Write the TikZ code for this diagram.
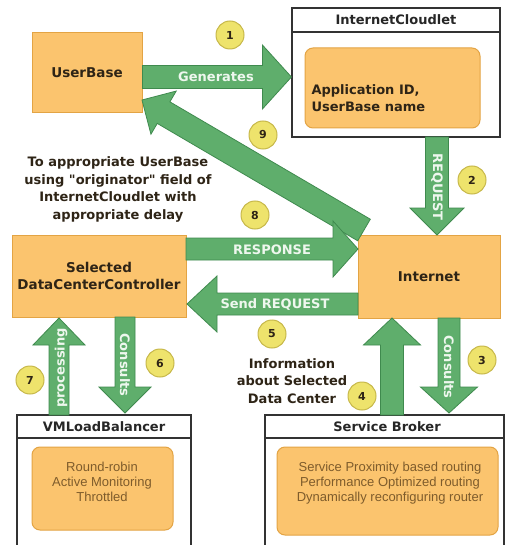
\documentclass[tikz,border=0pt]{standalone}
\usepackage{fontspec}
\setmainfont{DejaVu Sans}[Ligatures=TeXOff]
\newfontfamily\listfont{Liberation Sans}
\usetikzlibrary{calc}

\definecolor{boxfill}{HTML}{FBC46E}
\definecolor{boxline}{HTML}{E3A444}
\definecolor{flowfill}{HTML}{5FAE6C}
\definecolor{flowline}{HTML}{3F8A4E}
\definecolor{stepfill}{HTML}{EEE36C}
\definecolor{stepline}{HTML}{C7B84A}
\definecolor{ink}{HTML}{2E2416}
\definecolor{listink}{HTML}{7E5C2C}
\definecolor{flowink}{HTML}{EEF7EE}

\tikzset{
  unit/.style={draw=boxline, fill=boxfill, line width=1pt, text=ink,
    font=\bfseries\fontsize{13.5}{17}\selectfont, align=center, inner sep=0pt},
  frame/.style={draw=black!80, fill=white, line width=1.2pt, inner sep=0pt},
  innerbox/.style={draw=boxline, fill=boxfill, line width=1pt, rounded corners=8pt, inner sep=0pt},
  title/.style={text=black!85, font=\bfseries\fontsize{13}{16}\selectfont},
  flow/.style={fill=flowfill, draw=flowline, line width=0.8pt, line join=miter},
  flowtext/.style={text=flowink, font=\bfseries\fontsize{13}{16}\selectfont, inner sep=0pt},
  stepno/.style={circle, minimum size=28pt, inner sep=0pt, fill=stepfill, draw=stepline,
    line width=1pt, text=ink, font=\bfseries\fontsize{11}{13}\selectfont},
  note/.style={text=ink, font=\bfseries\fontsize{13}{17.4}\selectfont, align=center},
  boxtext/.style={text=ink, font=\bfseries\fontsize{13}{17}\selectfont, align=left},
  listing/.style={text=listink, font=\listfont\fontsize{13}{15}\selectfont, align=center},
}

% block arrow: [options]{from}{to}{shaft half width}{head half width}{head length}
\newcommand\blockarrow[6][]{%
  \coordinate (ba-base) at ($(#3)!#6!(#2)$);
  \filldraw[flow,#1] ($(#2)!#4!90:(#3)$) -- ($(ba-base)!#4!-90:(#2)$)
    -- ($(ba-base)!#5!-90:(#2)$) -- (#3) -- ($(ba-base)!#5!90:(#2)$)
    -- ($(ba-base)!#4!90:(#2)$) -- ($(#2)!#4!-90:(#3)$) -- cycle;
}

\begin{document}
\begin{tikzpicture}[x=1pt,y=-1pt]
\clip (0,0) rectangle (505,545);
\fill[white] (0,0) rectangle (505,545);

% ---- plain units
\node[unit, minimum width=110pt, minimum height=80pt] (ub) at (87,73) {UserBase};
\node[unit, minimum width=174pt, minimum height=82pt] (dcc) at (99,276) {Selected\\DataCenterController};
\node[unit, minimum width=142pt, minimum height=83pt] (inet) at (429,276.5) {Internet};

% ---- InternetCloudlet
\node[frame, minimum width=208pt, minimum height=129pt] (icl) at (396,72.5) {};
\coordinate (iclbar) at (0,32);
\draw[black!80, line width=1.2pt] (icl.west |- iclbar) -- (icl.east |- iclbar);
\node[title] (iclt) at (396,20) {InternetCloudlet};
\node[innerbox, minimum width=175pt, minimum height=80pt] (iclin) at (392.5,88) {};
\node[boxtext, anchor=west] (icltxt) at (308,98.5) {Application ID,\\UserBase name};

% ---- VMLoadBalancer
\node[frame, minimum width=174pt, minimum height=137pt] (vmlb) at (104,483.5) {};
\coordinate (vmlbbar) at (0,438);
\draw[black!80, line width=1.2pt] (vmlb.west |- vmlbbar) -- (vmlb.east |- vmlbbar);
\node[title] (vmlbt) at (104,427) {VMLoadBalancer};
\node[innerbox, minimum width=141pt, minimum height=83pt] (vmlbin) at (102.5,488.5) {};
\node[listing] (vmlbtxt) at (102,482) {Round-robin\\Active Monitoring\\Throttled};

% ---- Service Broker
\node[frame, minimum width=239pt, minimum height=137pt] (sb) at (384.5,483.5) {};
\coordinate (sbbar) at (0,438);
\draw[black!80, line width=1.2pt] (sb.west |- sbbar) -- (sb.east |- sbbar);
\node[title] (sbt) at (387,427) {Service Broker};
\node[innerbox, minimum width=221pt, minimum height=88pt] (sbin) at (387.5,491) {};
\node[listing] (sbtxt) at (390,483) {Service Proximity based routing\\Performance Optimized routing\\Dynamically reconfiguring router};

% ---- arrow end points
\coordinate (genA) at (ub.east |- 0,77);
\coordinate (genB) at (icl.west |- 0,77);
\coordinate (retA) at (364,230);
\coordinate (retB) at (142,100);
\coordinate (reqA) at (437,137);
\coordinate (reqB) at (437,235);
\coordinate (resA) at (186,249);
\coordinate (resB) at (358,249);
\coordinate (sndA) at (358,304);
\coordinate (sndB) at (187,304);
\coordinate (infA) at (392,415);
\coordinate (infB) at (392,318);
\coordinate (csrA) at (449,318);
\coordinate (csrB) at (449,413);
\coordinate (prcA) at (59,415);
\coordinate (prcB) at (59,318);
\coordinate (cslA) at (125,317);
\coordinate (cslB) at (125,413);

% ---- block arrows
\blockarrow{genA}{genB}{11.5pt}{32pt}{29pt}
\blockarrow{retA}{retB}{12.5pt}{25pt}{25pt}
\blockarrow{reqA}{reqB}{11.5pt}{27pt}{27pt}
\blockarrow{resA}{resB}{11pt}{28pt}{25pt}
\blockarrow{sndA}{sndB}{11pt}{28pt}{30pt}
\blockarrow{infA}{infB}{11.5pt}{28.5pt}{27pt}
\blockarrow{csrA}{csrB}{11pt}{28.5pt}{26pt}
\blockarrow{prcA}{prcB}{10pt}{26pt}{27pt}
\blockarrow{cslA}{cslB}{10pt}{26pt}{26pt}

% ---- arrow labels
\node[flowtext] (lgen) at (216,77) {Generates};
\node[flowtext, rotate=-90] (lreq) at (437,187) {REQUEST};
\node[flowtext] (lres) at (272,250) {RESPONSE};
\node[flowtext] (lsnd) at (275,305) {Send REQUEST};
\node[flowtext, rotate=-90] (lcsr) at (449,367) {Consults};
\node[flowtext, rotate=90] (lprc) at (61,368) {processing};
\node[flowtext, rotate=-90] (lcsl) at (125,365) {Consults};

% ---- step numbers
\node[stepno] (n1) at (230,35) {1};
\node[stepno] (n2) at (472,180) {2};
\node[stepno] (n3) at (482,360) {3};
\node[stepno] (n4) at (362,396) {4};
\node[stepno] (n5) at (272,334) {5};
\node[stepno] (n6) at (160,363) {6};
\node[stepno] (n7) at (30,380) {7};
\node[stepno] (n8) at (255,215) {8};
\node[stepno] (n9) at (263,135) {9};

% ---- free notes
\node[note] (retnote) at (118,189.5) {To appropriate UserBase\\using "originator" field of\\InternetCloudlet with\\appropriate delay};
\node[note] (infnote) at (292,381) {Information\\about Selected\\Data Center};
\end{tikzpicture}
\end{document}
